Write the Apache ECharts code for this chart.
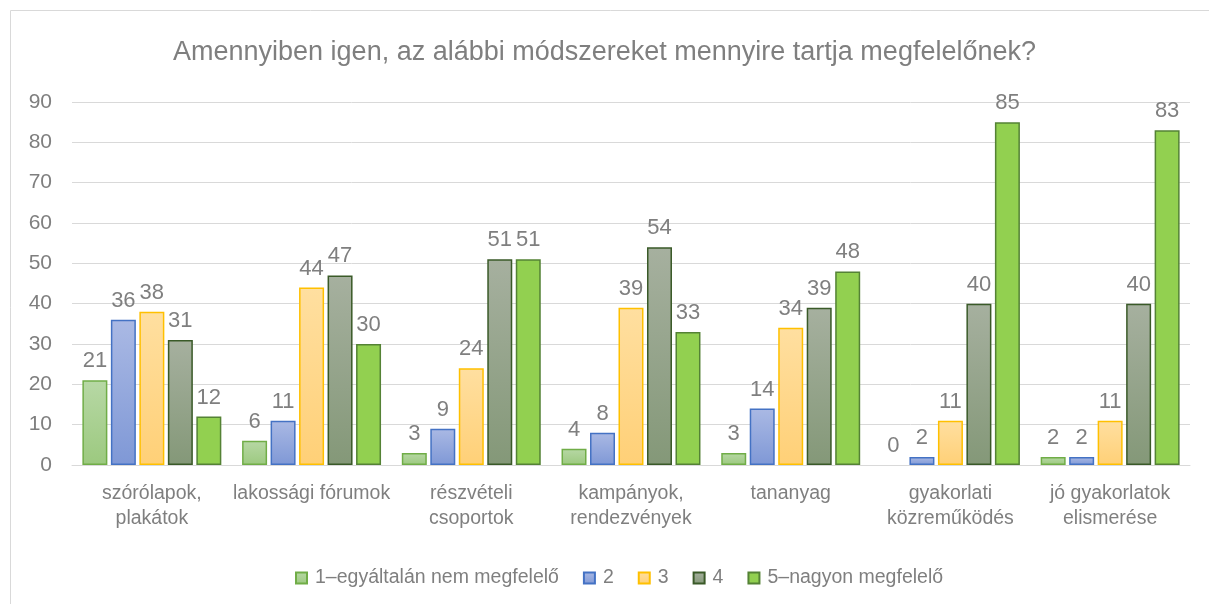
<!DOCTYPE html>
<html>
<head>
<meta charset="utf-8">
<script src="https://cdn.jsdelivr.net/npm/echarts@6/dist/echarts.min.js"></script>
<style>
  html, body { margin: 0; padding: 0; background: #fff; }
  #chart { width: 1209px; height: 604px; }
</style>
</head>
<body>
<div id="chart"></div>
<script>
var categories = ['szórólapok,\nplakátok', 'lakossági fórumok', 'részvételi\ncsoportok', 'kampányok,\nrendezvények', 'tananyag', 'gyakorlati\nközreműködés', 'jó gyakorlatok\nelismerése'];
var seriesNames = ['1–egyáltalán nem megfelelő', '2', '3', '4', '5–nagyon megfelelő'];
var s1 = [21, 6, 3, 4, 3, 0, 2];
var s2 = [36, 11, 9, 8, 14, 2, 2];
var s3 = [38, 44, 24, 39, 34, 11, 11];
var s4 = [31, 47, 51, 54, 39, 40, 40];
var s5 = [12, 30, 51, 33, 48, 85, 83];

var FONT = '"Liberation Sans", Arial, sans-serif';

// fill top/bottom colours and border per series
var fills = [
  ['#b7d8a5', '#9cc97f'],
  ['#aab9e4', '#7f98d6'],
  ['#ffdfa0', '#ffd077'],
  ['#a6b09f', '#849878'],
  ['#92d050', '#92d050']
];
var borders = ['#70ad47', '#4472c4', '#ffc000', '#3a5a28', '#548235'];

function grad(c) {
  return new echarts.graphic.LinearGradient(0, 0, 0, 1, [
    { offset: 0, color: c[0] },
    { offset: 1, color: c[1] }
  ]);
}

var allData = [s1, s2, s3, s4, s5];
var series = [];
for (var i = 0; i < allData.length; i++) {
  // zero values: no outline drawn (Excel shows nothing there)
  var d = allData[i].map(function (v) {
    return v === 0 ? { value: 0, itemStyle: { borderWidth: 0 } } : v;
  });
  series.push({
    name: seriesNames[i],
    type: 'bar',
    data: d,
    barGap: '14%',
    barCategoryGap: '13%',
    itemStyle: {
      color: grad(fills[i]),
      borderColor: borders[i],
      borderWidth: 1.5
    },
    label: {
      show: true,
      position: 'top',
      distance: 8,
      color: '#7f7f7f',
      fontSize: 22,
      fontFamily: FONT
    }
  });
}

var myChart = echarts.init(document.getElementById('chart'));
myChart.setOption({
  animation: false,
  title: {
    text: 'Amennyiben igen, az alábbi módszereket mennyire tartja megfelelőnek?',
    left: 'center',
    top: 34,
    textStyle: {
      color: '#7f7f7f',
      fontSize: 27,
      fontWeight: 'normal',
      fontFamily: FONT
    }
  },
  graphic: [{
    type: 'rect',
    shape: { x: 10.5, y: 10.5, width: 1200, height: 600 },
    style: { fill: 'none', stroke: '#d9d9d9', lineWidth: 1 }
  }],
  legend: {
    bottom: 11,
    left: 290,
    icon: 'rect',
    itemWidth: 11,
    itemHeight: 11,
    itemGap: 24,
    textStyle: {
      color: '#7f7f7f',
      fontSize: 19.5,
      padding: [0, 0, 0, 3],
      fontFamily: FONT
    },
    data: seriesNames
  },
  grid: {
    left: 72,
    right: 19,
    top: 102,
    bottom: 139
  },
  xAxis: {
    type: 'category',
    data: categories,
    axisLine: { lineStyle: { color: '#d9d9d9', width: 1 } },
    axisTick: { show: false },
    axisLabel: {
      color: '#7f7f7f',
      fontSize: 19.5,
      lineHeight: 25,
      margin: 16,
      interval: 0,
      fontFamily: FONT
    }
  },
  yAxis: {
    type: 'value',
    min: 0,
    max: 90,
    interval: 10,
    axisLine: { show: false },
    axisTick: { show: false },
    splitLine: { lineStyle: { color: '#d9d9d9', width: 1 } },
    axisLabel: {
      color: '#7f7f7f',
      fontSize: 21,
      margin: 20,
      fontFamily: FONT
    }
  },
  series: series
});
</script>
</body>
</html>
